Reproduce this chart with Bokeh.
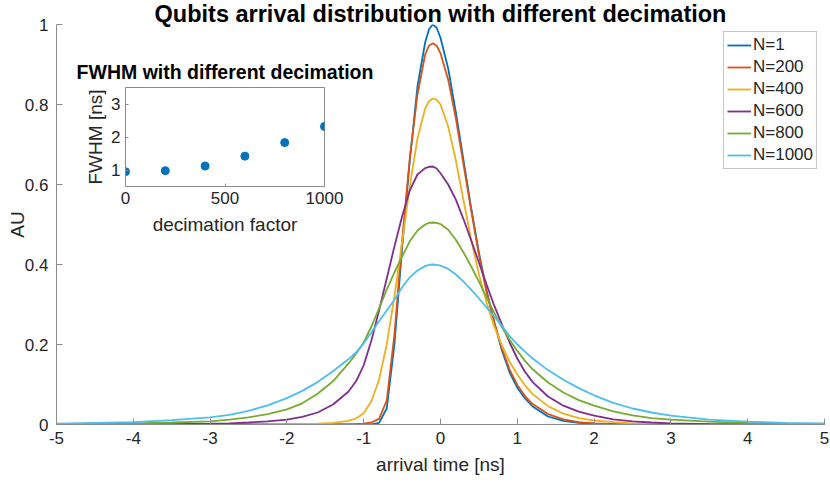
from bokeh.plotting import figure
from bokeh.models import Range1d, FixedTicker, Legend, LegendItem
from bokeh.embed import file_html
from bokeh.resources import INLINE

# ---------------- data ----------------
arrival_ns = [-5, -4.5, -4, -3.5, -3, -2.75, -2.5, -2.25, -2, -1.8, -1.6, -1.4, -1.2, -1.1,
              -1.0, -0.9, -0.8, -0.7, -0.6, -0.5, -0.4, -0.3, -0.2, -0.15, -0.1, -0.05,
              0, 0.1, 0.2, 0.3, 0.4, 0.5, 0.6, 0.7, 0.8, 0.9, 1.0, 1.1, 1.2, 1.4, 1.6, 1.8,
              2.0, 2.25, 2.5, 2.75, 3, 3.5, 4, 4.5, 5]

n_1 = [0, 0, 0, 0, 0, 0, 0, 0, 0, 0, 0, 0, 0, 0,
       0, 0.0, 0.004, 0.04, 0.20, 0.44, 0.66, 0.845, 0.955, 0.988, 1.0, 0.992,
       0.967, 0.89, 0.78, 0.66, 0.54, 0.43, 0.335, 0.255, 0.185, 0.13, 0.092, 0.065, 0.045, 0.02, 0.009, 0.004,
       0.002, 0.001, 0, 0, 0, 0, 0, 0, 0]

n_200 = [0, 0, 0, 0, 0, 0, 0, 0, 0, 0, 0, 0, 0, 0.001,
         0.002, 0.005, 0.014, 0.06, 0.225, 0.46, 0.665, 0.825, 0.925, 0.947, 0.953, 0.947,
         0.928, 0.862, 0.765, 0.65, 0.535, 0.425, 0.332, 0.256, 0.19, 0.137, 0.099, 0.071, 0.051, 0.026, 0.013, 0.006,
         0.003, 0.001, 0, 0, 0, 0, 0, 0, 0]

n_400 = [0, 0, 0, 0, 0, 0, 0.0005, 0.0007, 0.001, 0.0015, 0.002, 0.004, 0.009, 0.015,
         0.028, 0.058, 0.112, 0.20, 0.32, 0.455, 0.595, 0.715, 0.79, 0.808, 0.815, 0.812,
         0.80, 0.745, 0.66, 0.56, 0.462, 0.375, 0.305, 0.245, 0.198, 0.157, 0.125, 0.098, 0.076, 0.046, 0.027, 0.016,
         0.010, 0.006, 0.003, 0.002, 0.001, 0, 0, 0, 0]

n_600 = [0, 0, 0.001, 0.001, 0.002, 0.003, 0.005, 0.008, 0.012, 0.019, 0.03, 0.05, 0.082, 0.108,
         0.148, 0.21, 0.285, 0.365, 0.445, 0.52, 0.585, 0.625, 0.641, 0.644, 0.645, 0.64,
         0.628, 0.60, 0.562, 0.513, 0.46, 0.405, 0.35, 0.297, 0.25, 0.205, 0.165, 0.132, 0.106, 0.07, 0.047, 0.032,
         0.022, 0.013, 0.008, 0.005, 0.003, 0.001, 0.0005, 0, 0]

n_800 = [0.001, 0.002, 0.003, 0.005, 0.008, 0.012, 0.018, 0.026, 0.038, 0.053, 0.077, 0.108, 0.152, 0.177,
         0.205, 0.245, 0.29, 0.337, 0.38, 0.42, 0.458, 0.485, 0.50, 0.504, 0.505, 0.504,
         0.501, 0.487, 0.462, 0.43, 0.395, 0.357, 0.318, 0.279, 0.243, 0.212, 0.184, 0.159, 0.138, 0.105, 0.08, 0.061,
         0.047, 0.033, 0.023, 0.016, 0.012, 0.007, 0.004, 0.002, 0.001]

n_1000 = [0.002, 0.004, 0.006, 0.011, 0.018, 0.024, 0.034, 0.048, 0.066, 0.084, 0.106, 0.133, 0.163, 0.18,
          0.203, 0.23, 0.258, 0.285, 0.312, 0.343, 0.368, 0.385, 0.396, 0.399, 0.40, 0.399,
          0.397, 0.389, 0.375, 0.357, 0.337, 0.315, 0.293, 0.27, 0.246, 0.221, 0.20, 0.182, 0.165, 0.136, 0.112, 0.091,
          0.073, 0.054, 0.040, 0.030, 0.022, 0.012, 0.007, 0.004, 0.003]

series = [n_1, n_200, n_400, n_600, n_800, n_1000]
series_labels = ["N=1", "N=200", "N=400", "N=600", "N=800", "N=1000"]
series_colors = ["#0072BD", "#D95319", "#EDB120", "#7E2F8E", "#77AC30", "#4DBEEE"]

x_ticks = [-5, -4, -3, -2, -1, 0, 1, 2, 3, 4, 5]
x_tick_labels = ["-5", "-4", "-3", "-2", "-1", "0", "1", "2", "3", "4", "5"]
y_ticks = [0, 0.2, 0.4, 0.6, 0.8, 1]
y_tick_labels = ["0", "0.2", "0.4", "0.6", "0.8", "1"]

decimation = [0, 200, 400, 600, 800, 1000]
fwhm_ns = [0.95, 0.98, 1.12, 1.42, 1.83, 2.32]
inset_x_ticks = [0, 500, 1000]
inset_y_ticks = [1, 2, 3]

FONT = "Liberation Sans"
AXIS_GREY = "#8c8c8c"
TEXT = "#262626"

# ---------------- main figure ----------------
p = figure(width=830, height=484, x_range=Range1d(-5, 5), y_range=Range1d(0, 1),
           output_backend="svg", toolbar_location=None,
           title="Qubits arrival distribution with different decimation",
           min_border_left=56, min_border_right=6, min_border_top=24, min_border_bottom=60)
p.outline_line_color = None
p.grid.visible = False
p.background_fill_color = "white"
p.border_fill_color = "white"
p.title.align = "center"
p.title.vertical_align = "middle"
p.title.text_font = FONT
p.title.text_font_size = "23.5px"
p.title.text_font_style = "bold"
p.title.text_color = "#000000"
p.title.standoff = -6

renderers = []
for ys, c in zip(series, series_colors):
    r = p.line(arrival_ns, ys, line_color=c, line_width=1.8)
    renderers.append(r)

p.xaxis.ticker = FixedTicker(ticks=x_ticks)
p.xaxis.major_label_overrides = dict(zip(x_ticks, x_tick_labels))
p.yaxis.ticker = FixedTicker(ticks=y_ticks)
p.yaxis.major_label_overrides = dict(zip(y_ticks, y_tick_labels))
p.xaxis.axis_label = "arrival time [ns]"
p.yaxis.axis_label = "AU"

for ax in (p.xaxis[0], p.yaxis[0]):
    ax.axis_line_color = AXIS_GREY
    ax.major_tick_line_color = AXIS_GREY
    ax.major_tick_in = 6
    ax.major_tick_out = 0
    ax.minor_tick_line_color = None
    ax.major_label_text_font = FONT
    ax.major_label_text_font_size = "17px"
    ax.major_label_text_color = TEXT
    ax.axis_label_text_font = FONT
    ax.axis_label_text_font_size = "19px"
    ax.axis_label_text_font_style = "normal"
    ax.axis_label_text_color = TEXT
p.xaxis.major_label_standoff = 7
p.xaxis.axis_label_standoff = 7
p.yaxis.major_label_standoff = 8
p.yaxis.axis_label_standoff = -6

legend = Legend(items=[LegendItem(label=l, renderers=[r]) for l, r in zip(series_labels, renderers)],
                location="top_right")
legend.label_text_font = FONT
legend.label_text_font_size = "17px"
legend.label_text_color = TEXT
legend.border_line_color = AXIS_GREY
legend.border_line_width = 1
legend.background_fill_color = "white"
legend.padding = 3
legend.spacing = 2
legend.glyph_width = 24
legend.glyph_height = 20
legend.label_height = 20
legend.label_standoff = 2
legend.margin = 7
p.add_layout(legend)

# ---------------- inset figure ----------------
inset = figure(width=319, height=199, x_range=Range1d(0, 1000), y_range=Range1d(0.5, 3.5),
               output_backend="svg", toolbar_location=None,
               min_border_left=60, min_border_right=60, min_border_top=40, min_border_bottom=60,
               title="FWHM with different decimation")
inset.styles = {"position": "absolute", "left": "65px", "top": "47px"}
inset.grid.visible = False
inset.outline_line_color = AXIS_GREY
inset.background_fill_color = "white"
inset.border_fill_alpha = 0
inset.title.align = "center"
inset.title.text_font = FONT
inset.title.text_font_size = "19.5px"
inset.title.text_font_style = "bold"
inset.title.text_color = "#000000"
inset.title.standoff = 9

inset.scatter(decimation, fwhm_ns, size=8, fill_color="#0072BD", line_color="#0072BD")

inset.xaxis.ticker = FixedTicker(ticks=inset_x_ticks)
inset.yaxis.ticker = FixedTicker(ticks=inset_y_ticks)
inset.xaxis.axis_label = "decimation factor"
inset.yaxis.axis_label = "FWHM [ns]"
for ax in (inset.xaxis[0], inset.yaxis[0]):
    ax.axis_line_color = AXIS_GREY
    ax.major_tick_line_color = AXIS_GREY
    ax.major_tick_in = 3
    ax.major_tick_out = 0
    ax.minor_tick_line_color = None
    ax.major_label_text_font = FONT
    ax.major_label_text_font_size = "17px"
    ax.major_label_text_color = TEXT
    ax.axis_label_text_font = FONT
    ax.axis_label_text_font_size = "19px"
    ax.axis_label_text_font_style = "normal"
    ax.axis_label_text_color = TEXT
inset.xaxis.major_label_standoff = 5
inset.xaxis.axis_label_standoff = 7
inset.yaxis.major_label_standoff = 5
inset.yaxis.axis_label_standoff = 2

open("out.html", "w").write(file_html([p, inset], INLINE))
